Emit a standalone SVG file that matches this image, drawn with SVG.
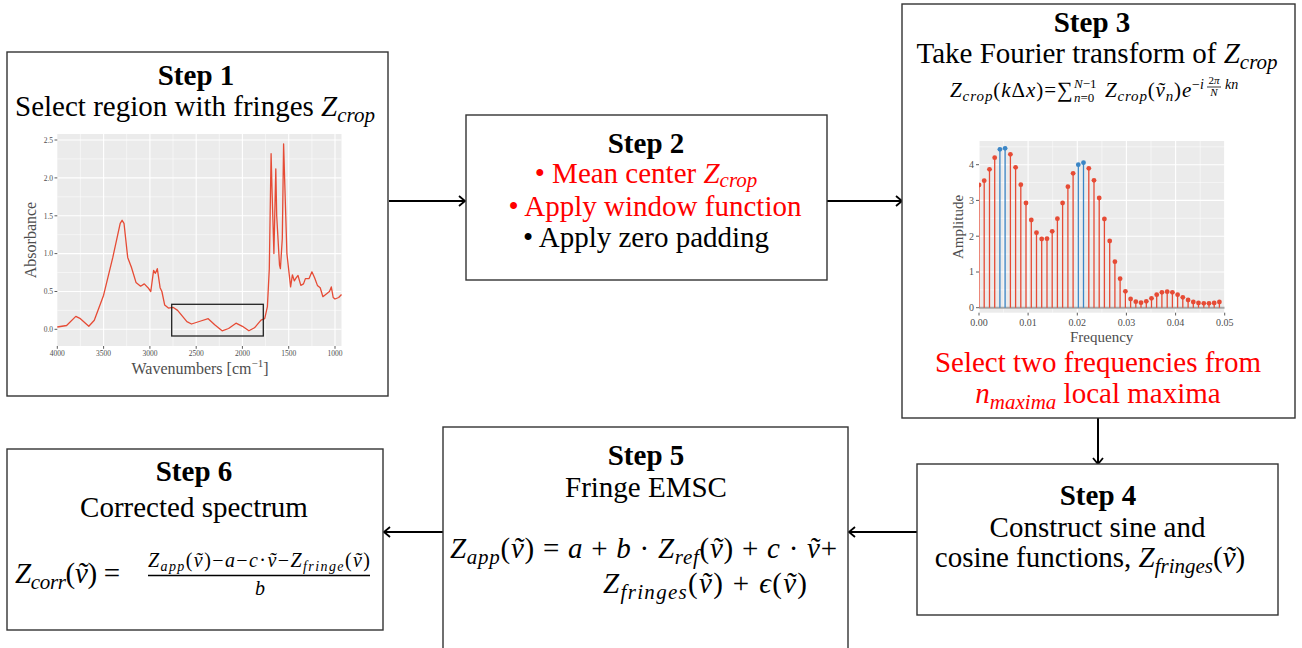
<svg xmlns="http://www.w3.org/2000/svg" width="1302" height="648" viewBox="0 0 1302 648">
<style>
.box{fill:#fff;stroke:#333;stroke-width:1.4}
.t{font-family:"Liberation Serif","Times New Roman",serif;font-size:29px;fill:#000;text-anchor:middle}
.m{font-family:"Liberation Serif","Times New Roman",serif;fill:#000}
.b{font-weight:bold}
.i{font-style:italic}
.red{fill:#f00}
.conn{stroke:#000;stroke-width:2;fill:none;marker-end:url(#ah)}
.pan{fill:#ebebeb}
.gmaj{stroke:#fff;stroke-width:1.1}
.gmin{stroke:#fff;stroke-width:0.5}
.ax{font-family:"Liberation Serif","Times New Roman",serif;fill:#4d4d4d}
.tk{stroke:#333;stroke-width:0.8}
.sr{stroke:#e64b35;stroke-width:1.3}
.sb{stroke:#3b86c6;stroke-width:1.3}
.pr{fill:#e64b35}
.pb{fill:#3b86c6}
</style>
<defs>
<marker id="ah" markerUnits="userSpaceOnUse" markerWidth="10" markerHeight="12" viewBox="0 0 10 12" refX="7" refY="6" orient="auto">
<path d="M1,1 L7,6 L1,11" fill="none" stroke="#000" stroke-width="1.8"/>
</marker>
<clipPath id="c3"><rect x="979" y="141" width="245.7" height="171.7"/></clipPath>
</defs>

<g id="connectors">
<line class="conn" x1="389" y1="201" x2="465" y2="201"/>
<line class="conn" x1="827" y1="201" x2="902" y2="201"/>
<line class="conn" x1="1098" y1="418" x2="1098" y2="464"/>
<line class="conn" x1="917" y1="532" x2="849" y2="532"/>
<line class="conn" x1="443" y1="532" x2="384" y2="532"/>
</g>

<g id="step1">
<rect class="box" x="7" y="52" width="381" height="344"/>
<text class="t b" x="196" y="85">Step 1</text>
<text class="t" x="195" y="116">Select region with fringes <tspan class="i">Z</tspan><tspan class="i" font-size="21" dy="6">crop</tspan></text>
<rect class="pan" x="57.3" y="134" width="284.2" height="212"/>
<g class="gmin">
<line x1="80.4" y1="134" x2="80.4" y2="346"/><line x1="126.7" y1="134" x2="126.7" y2="346"/><line x1="173" y1="134" x2="173" y2="346"/><line x1="219.3" y1="134" x2="219.3" y2="346"/><line x1="265.6" y1="134" x2="265.6" y2="346"/><line x1="311.9" y1="134" x2="311.9" y2="346"/>
<line x1="57.3" y1="310.4" x2="341.5" y2="310.4"/><line x1="57.3" y1="272.5" x2="341.5" y2="272.5"/><line x1="57.3" y1="234.7" x2="341.5" y2="234.7"/><line x1="57.3" y1="196.8" x2="341.5" y2="196.8"/><line x1="57.3" y1="158.9" x2="341.5" y2="158.9"/>
</g>
<g class="gmaj">
<line x1="103.6" y1="134" x2="103.6" y2="346"/><line x1="149.9" y1="134" x2="149.9" y2="346"/><line x1="196.2" y1="134" x2="196.2" y2="346"/><line x1="242.4" y1="134" x2="242.4" y2="346"/><line x1="288.7" y1="134" x2="288.7" y2="346"/><line x1="335" y1="134" x2="335" y2="346"/>
<line x1="57.3" y1="329.3" x2="341.5" y2="329.3"/><line x1="57.3" y1="291.5" x2="341.5" y2="291.5"/><line x1="57.3" y1="253.6" x2="341.5" y2="253.6"/><line x1="57.3" y1="215.8" x2="341.5" y2="215.8"/><line x1="57.3" y1="177.9" x2="341.5" y2="177.9"/><line x1="57.3" y1="140" x2="341.5" y2="140"/>
</g>
<g class="tk">
<line x1="54.5" y1="329.3" x2="57.3" y2="329.3"/><line x1="54.5" y1="291.5" x2="57.3" y2="291.5"/><line x1="54.5" y1="253.6" x2="57.3" y2="253.6"/><line x1="54.5" y1="215.8" x2="57.3" y2="215.8"/><line x1="54.5" y1="177.9" x2="57.3" y2="177.9"/><line x1="54.5" y1="140" x2="57.3" y2="140"/>
<line x1="57.3" y1="346" x2="57.3" y2="348.8"/><line x1="103.6" y1="346" x2="103.6" y2="348.8"/><line x1="149.9" y1="346" x2="149.9" y2="348.8"/><line x1="196.2" y1="346" x2="196.2" y2="348.8"/><line x1="242.4" y1="346" x2="242.4" y2="348.8"/><line x1="288.7" y1="346" x2="288.7" y2="348.8"/><line x1="335" y1="346" x2="335" y2="348.8"/>
</g>
<g class="ax" font-size="7.5" text-anchor="end">
<text x="53" y="332">0.0</text><text x="53" y="294.2">0.5</text><text x="53" y="256.3">1.0</text><text x="53" y="218.5">1.5</text><text x="53" y="180.6">2.0</text><text x="53" y="142.7">2.5</text>
</g>
<g class="ax" font-size="7.5" text-anchor="middle">
<text x="57.3" y="356">4000</text><text x="103.6" y="356">3500</text><text x="149.9" y="356">3000</text><text x="196.2" y="356">2500</text><text x="242.4" y="356">2000</text><text x="288.7" y="356">1500</text><text x="335" y="356">1000</text>
</g>
<text class="ax" font-size="16" text-anchor="middle" transform="translate(36,240) rotate(-90)">Absorbance</text>
<text class="ax" font-size="16" text-anchor="middle" x="200" y="374">Wavenumbers [cm<tspan font-size="11" dy="-7">−1</tspan><tspan dy="7">]</tspan></text>
<polyline fill="none" stroke="#e64b35" stroke-width="1.3" stroke-linejoin="round" points="57.3,327 66.6,325.5 75.8,316.4 80.4,318.7 88.8,326.3 94.3,320.2 103.6,295.2 112.8,257.4 120.2,223.3 122.1,220.3 124,223.3 127.7,257.4 131.4,267.2 136,282.4 140.6,286.2 144.3,283.9 148,287.7 150.8,291.5 153.6,270.3 155.4,273.3 157.3,268.7 160.1,287.7 161.9,291.5 164.7,305.1 168.4,308.1 173,307.3 177.6,310.4 186.9,321.7 191.5,324 200.8,321 208.2,318.7 214.7,324.8 222.1,330.8 228.6,328.5 236,323.2 242.4,326.3 248.9,330.8 254.5,327.8 261,320.2 264.7,318.7 267.4,306.6 269.3,268.7 271.1,153.7 272.1,193 273.9,253.6 275.8,168.8 276.7,215.8 279.5,265 280.4,268.7 282.3,238.5 283.6,143.8 284.6,177.9 286.9,253.6 290.6,286.9 292.4,274.8 294.3,280.9 296.1,277.8 298,275.5 300.8,285.4 303.5,283.9 305.4,278.6 309.1,278.6 311.9,271.8 314.6,277.8 317.4,285.4 320.2,287.7 322.9,296.7 325.7,294.5 329.5,291.5 331.3,286.9 333.2,297.5 335,299 338.7,297.5 341.5,294.5"/>
<rect x="171.7" y="304.3" width="91.6" height="31.7" fill="none" stroke="#222" stroke-width="1.3"/>
</g>

<g id="step2">
<rect class="box" x="466" y="115" width="361" height="165"/>
<text class="t b" x="646" y="153">Step 2</text>
<text class="t red" x="646" y="183">• Mean center <tspan class="i">Z</tspan><tspan class="i" font-size="21" dy="4">crop</tspan></text>
<text class="t red" x="655" y="216">• Apply window function</text>
<text class="t" x="646" y="247">• Apply zero padding</text>
</g>

<g id="step3">
<rect class="box" x="902" y="4" width="393" height="414"/>
<text class="t b" x="1092" y="32">Step 3</text>
<text class="t" x="1097" y="63">Take Fourier transform of <tspan class="i">Z</tspan><tspan class="i" font-size="21" dy="6">crop</tspan></text>
<g class="m" font-size="21">
<text x="950" y="97" textLength="106" lengthAdjust="spacing"><tspan class="i">Z</tspan><tspan class="i" font-size="15" dy="4">crop</tspan><tspan dy="-4">(</tspan><tspan class="i">k</tspan>Δ<tspan class="i">x</tspan>)=</text>
<text x="1057" y="97" font-size="22">∑</text>
<text x="1074" y="88" font-size="13"><tspan class="i">N</tspan>−1</text>
<text x="1074" y="102" font-size="13"><tspan class="i">n</tspan>=0</text>
<text x="1105" y="97" textLength="76" lengthAdjust="spacing"><tspan class="i">Z</tspan><tspan class="i" font-size="15" dy="4">crop</tspan><tspan dy="-4">(</tspan><tspan class="i">ṽ</tspan><tspan class="i" font-size="15" dy="4">n</tspan><tspan dy="-4">)</tspan></text>
<text x="1182" y="97" class="i">e</text>
<text x="1192" y="89" font-size="14">−<tspan class="i">i</tspan></text>
<text x="1214" y="84" font-size="11" text-anchor="middle">2<tspan class="i">π</tspan></text>
<line x1="1207" y1="87" x2="1221" y2="87" stroke="#000" stroke-width="0.8"/>
<text x="1214" y="95.5" font-size="11" text-anchor="middle" class="i">N</text>
<text x="1225" y="89" font-size="14" class="i">kn</text>
</g>
<rect class="pan" x="979" y="141" width="245.7" height="171.7"/>
<g class="gmin">
<line x1="1003.6" y1="141" x2="1003.6" y2="312.7"/><line x1="1052.7" y1="141" x2="1052.7" y2="312.7"/><line x1="1101.9" y1="141" x2="1101.9" y2="312.7"/><line x1="1151" y1="141" x2="1151" y2="312.7"/><line x1="1200.2" y1="141" x2="1200.2" y2="312.7"/>
<line x1="979" y1="289.8" x2="1224.7" y2="289.8"/><line x1="979" y1="254.1" x2="1224.7" y2="254.1"/><line x1="979" y1="218.3" x2="1224.7" y2="218.3"/><line x1="979" y1="182.6" x2="1224.7" y2="182.6"/><line x1="979" y1="146.8" x2="1224.7" y2="146.8"/>
</g>
<g class="gmaj">
<line x1="979" y1="141" x2="979" y2="312.7"/><line x1="1028.1" y1="141" x2="1028.1" y2="312.7"/><line x1="1077.3" y1="141" x2="1077.3" y2="312.7"/><line x1="1126.4" y1="141" x2="1126.4" y2="312.7"/><line x1="1175.6" y1="141" x2="1175.6" y2="312.7"/><line x1="1224.7" y1="141" x2="1224.7" y2="312.7"/>
<line x1="979" y1="272" x2="1224.7" y2="272"/><line x1="979" y1="236.2" x2="1224.7" y2="236.2"/><line x1="979" y1="200.4" x2="1224.7" y2="200.4"/><line x1="979" y1="164.7" x2="1224.7" y2="164.7"/>
</g>
<g clip-path="url(#c3)">
<line x1="979" y1="307.7" x2="1224.7" y2="307.7" stroke="#a6a6a6" stroke-width="2"/>
<g class="sr">
<line x1="979" y1="307.7" x2="979" y2="185"/><line x1="984.2" y1="307.7" x2="984.2" y2="180.7"/><line x1="989.5" y1="307.7" x2="989.5" y2="169.3"/><line x1="994.7" y1="307.7" x2="994.7" y2="157.7"/><line x1="1010.4" y1="307.7" x2="1010.4" y2="154.3"/><line x1="1015.6" y1="307.7" x2="1015.6" y2="167.3"/><line x1="1020.8" y1="307.7" x2="1020.8" y2="184.7"/><line x1="1026" y1="307.7" x2="1026" y2="203"/><line x1="1031.3" y1="307.7" x2="1031.3" y2="220"/><line x1="1036.5" y1="307.7" x2="1036.5" y2="232.7"/><line x1="1041.7" y1="307.7" x2="1041.7" y2="239"/><line x1="1047" y1="307.7" x2="1047" y2="238.7"/><line x1="1052.2" y1="307.7" x2="1052.2" y2="231.3"/><line x1="1057.4" y1="307.7" x2="1057.4" y2="218.7"/><line x1="1062.6" y1="307.7" x2="1062.6" y2="203"/><line x1="1067.9" y1="307.7" x2="1067.9" y2="186.7"/><line x1="1073.1" y1="307.7" x2="1073.1" y2="173.3"/><line x1="1088.8" y1="307.7" x2="1088.8" y2="168.3"/><line x1="1094" y1="307.7" x2="1094" y2="180.3"/><line x1="1099.2" y1="307.7" x2="1099.2" y2="198"/><line x1="1104.4" y1="307.7" x2="1104.4" y2="219"/><line x1="1109.7" y1="307.7" x2="1109.7" y2="241"/><line x1="1114.9" y1="307.7" x2="1114.9" y2="261.7"/><line x1="1120.1" y1="307.7" x2="1120.1" y2="278.7"/><line x1="1125.4" y1="307.7" x2="1125.4" y2="291.3"/><line x1="1130.6" y1="307.7" x2="1130.6" y2="299"/><line x1="1135.8" y1="307.7" x2="1135.8" y2="301.7"/><line x1="1141" y1="307.7" x2="1141" y2="302.7"/><line x1="1146.3" y1="307.7" x2="1146.3" y2="301.3"/><line x1="1151.5" y1="307.7" x2="1151.5" y2="298.3"/><line x1="1156.7" y1="307.7" x2="1156.7" y2="294.7"/><line x1="1161.9" y1="307.7" x2="1161.9" y2="292.3"/><line x1="1167.2" y1="307.7" x2="1167.2" y2="291.7"/><line x1="1172.4" y1="307.7" x2="1172.4" y2="292.3"/><line x1="1177.6" y1="307.7" x2="1177.6" y2="294.7"/><line x1="1182.8" y1="307.7" x2="1182.8" y2="297.3"/><line x1="1188.1" y1="307.7" x2="1188.1" y2="300"/><line x1="1193.3" y1="307.7" x2="1193.3" y2="302"/><line x1="1198.5" y1="307.7" x2="1198.5" y2="303"/><line x1="1203.8" y1="307.7" x2="1203.8" y2="303.3"/><line x1="1209" y1="307.7" x2="1209" y2="303.3"/><line x1="1214.2" y1="307.7" x2="1214.2" y2="303"/><line x1="1219.4" y1="307.7" x2="1219.4" y2="302"/>
</g>
<g class="sb">
<line x1="999.9" y1="307.7" x2="999.9" y2="149.3"/><line x1="1005.1" y1="307.7" x2="1005.1" y2="148.3"/><line x1="1078.3" y1="307.7" x2="1078.3" y2="164.7"/><line x1="1083.5" y1="307.7" x2="1083.5" y2="162.7"/>
</g>
<g class="pr">
<circle cx="979" cy="185" r="2.4"/><circle cx="984.2" cy="180.7" r="2.4"/><circle cx="989.5" cy="169.3" r="2.4"/><circle cx="994.7" cy="157.7" r="2.4"/><circle cx="1010.4" cy="154.3" r="2.4"/><circle cx="1015.6" cy="167.3" r="2.4"/><circle cx="1020.8" cy="184.7" r="2.4"/><circle cx="1026" cy="203" r="2.4"/><circle cx="1031.3" cy="220" r="2.4"/><circle cx="1036.5" cy="232.7" r="2.4"/><circle cx="1041.7" cy="239" r="2.4"/><circle cx="1047" cy="238.7" r="2.4"/><circle cx="1052.2" cy="231.3" r="2.4"/><circle cx="1057.4" cy="218.7" r="2.4"/><circle cx="1062.6" cy="203" r="2.4"/><circle cx="1067.9" cy="186.7" r="2.4"/><circle cx="1073.1" cy="173.3" r="2.4"/><circle cx="1088.8" cy="168.3" r="2.4"/><circle cx="1094" cy="180.3" r="2.4"/><circle cx="1099.2" cy="198" r="2.4"/><circle cx="1104.4" cy="219" r="2.4"/><circle cx="1109.7" cy="241" r="2.4"/><circle cx="1114.9" cy="261.7" r="2.4"/><circle cx="1120.1" cy="278.7" r="2.4"/><circle cx="1125.4" cy="291.3" r="2.4"/><circle cx="1130.6" cy="299" r="2.4"/><circle cx="1135.8" cy="301.7" r="2.4"/><circle cx="1141" cy="302.7" r="2.4"/><circle cx="1146.3" cy="301.3" r="2.4"/><circle cx="1151.5" cy="298.3" r="2.4"/><circle cx="1156.7" cy="294.7" r="2.4"/><circle cx="1161.9" cy="292.3" r="2.4"/><circle cx="1167.2" cy="291.7" r="2.4"/><circle cx="1172.4" cy="292.3" r="2.4"/><circle cx="1177.6" cy="294.7" r="2.4"/><circle cx="1182.8" cy="297.3" r="2.4"/><circle cx="1188.1" cy="300" r="2.4"/><circle cx="1193.3" cy="302" r="2.4"/><circle cx="1198.5" cy="303" r="2.4"/><circle cx="1203.8" cy="303.3" r="2.4"/><circle cx="1209" cy="303.3" r="2.4"/><circle cx="1214.2" cy="303" r="2.4"/><circle cx="1219.4" cy="302" r="2.4"/>
</g>
<g class="pb">
<circle cx="999.9" cy="149.3" r="2.4"/><circle cx="1005.1" cy="148.3" r="2.4"/><circle cx="1078.3" cy="164.7" r="2.4"/><circle cx="1083.5" cy="162.7" r="2.4"/>
</g>
</g>
<g class="tk">
<line x1="976" y1="307.7" x2="979" y2="307.7"/><line x1="976" y1="272" x2="979" y2="272"/><line x1="976" y1="236.2" x2="979" y2="236.2"/><line x1="976" y1="200.4" x2="979" y2="200.4"/><line x1="976" y1="164.7" x2="979" y2="164.7"/>
<line x1="979" y1="312.7" x2="979" y2="315.5"/><line x1="1028.1" y1="312.7" x2="1028.1" y2="315.5"/><line x1="1077.3" y1="312.7" x2="1077.3" y2="315.5"/><line x1="1126.4" y1="312.7" x2="1126.4" y2="315.5"/><line x1="1175.6" y1="312.7" x2="1175.6" y2="315.5"/><line x1="1224.7" y1="312.7" x2="1224.7" y2="315.5"/>
</g>
<g class="ax" font-size="10" text-anchor="end">
<text x="974" y="311">0</text><text x="974" y="275.3">1</text><text x="974" y="239.5">2</text><text x="974" y="203.7">3</text><text x="974" y="168">4</text>
</g>
<g class="ax" font-size="10" text-anchor="middle">
<text x="979" y="326">0.00</text><text x="1028.1" y="326">0.01</text><text x="1077.3" y="326">0.02</text><text x="1126.4" y="326">0.03</text><text x="1175.6" y="326">0.04</text><text x="1224.7" y="326">0.05</text>
</g>
<text class="ax" font-size="15" text-anchor="middle" transform="translate(963,227) rotate(-90)">Amplitude</text>
<text class="ax" font-size="15" text-anchor="middle" x="1101.7" y="342">Frequency</text>
<text class="t red" x="1098" y="372">Select two frequencies from</text>
<text class="t red" x="1098" y="403"><tspan class="i">n</tspan><tspan class="i" font-size="21" dy="6">maxima</tspan><tspan dy="-6"> local maxima</tspan></text>
</g>

<g id="step4">
<rect class="box" x="917" y="464" width="361" height="151"/>
<text class="t b" x="1098" y="505">Step 4</text>
<text class="t" x="1097.5" y="537">Construct sine and</text>
<text class="t" x="1090" y="567">cosine functions, <tspan class="i">Z</tspan><tspan class="i" font-size="21" dy="6">fringes</tspan><tspan dy="-6">(</tspan><tspan class="i">ṽ</tspan>)</text>
</g>

<g id="step5">
<rect class="box" x="443" y="427" width="405" height="226"/>
<text class="t b" x="646" y="465">Step 5</text>
<text class="t" x="646" y="497">Fringe EMSC</text>
<text class="m" font-size="29" x="450" y="558" textLength="387" lengthAdjust="spacing"><tspan class="i">Z</tspan><tspan class="i" font-size="21" dy="6">app</tspan><tspan dy="-6">(</tspan><tspan class="i">ṽ</tspan>) = <tspan class="i">a</tspan> + <tspan class="i">b</tspan> · <tspan class="i">Z</tspan><tspan class="i" font-size="21" dy="6">ref</tspan><tspan dy="-6">(</tspan><tspan class="i">ṽ</tspan>) + <tspan class="i">c</tspan> · <tspan class="i">ṽ</tspan>+</text>
<text class="m" font-size="29" x="603" y="593" textLength="204" lengthAdjust="spacing"><tspan class="i">Z</tspan><tspan class="i" font-size="21" dy="6">fringes</tspan><tspan dy="-6">(</tspan><tspan class="i">ṽ</tspan>) + <tspan class="i">ϵ</tspan>(<tspan class="i">ṽ</tspan>)</text>
</g>

<g id="step6">
<rect class="box" x="7" y="449" width="376" height="181"/>
<text class="t b" x="194" y="481">Step 6</text>
<text class="t" x="194" y="517">Corrected spectrum</text>
<text class="m" font-size="29" x="15" y="583" textLength="105" lengthAdjust="spacing"><tspan class="i">Z</tspan><tspan class="i" font-size="21" dy="6">corr</tspan><tspan dy="-6">(</tspan><tspan class="i">ṽ</tspan>) =</text>
<text class="m" font-size="20" x="148" y="567" textLength="222" lengthAdjust="spacing"><tspan class="i">Z</tspan><tspan class="i" font-size="14" dy="4">app</tspan><tspan dy="-4">(</tspan><tspan class="i">ṽ</tspan>)−<tspan class="i">a</tspan>−<tspan class="i">c</tspan>·<tspan class="i">ṽ</tspan>−<tspan class="i">Z</tspan><tspan class="i" font-size="14" dy="4">fringe</tspan><tspan dy="-4">(</tspan><tspan class="i">ṽ</tspan>)</text>
<line x1="148" y1="575.5" x2="370" y2="575.5" stroke="#000" stroke-width="1.3"/>
<text class="m i" font-size="20" x="260" y="595" text-anchor="middle">b</text>
</g>
</svg>
